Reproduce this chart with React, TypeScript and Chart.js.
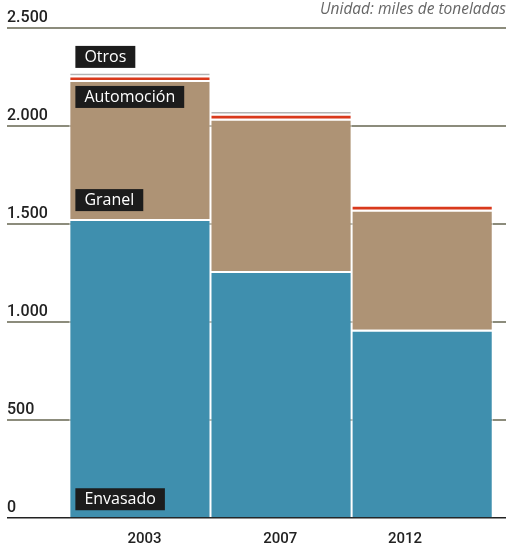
import React, { useEffect, useRef } from 'react';
import { Chart, registerables } from 'chart.js';

Chart.register(...registerables);

// ---- data ----
const years = ['2003', '2007', '2012'];
const seriesNames = ['Envasado', 'Granel', 'Automoción', 'Otros'];
const envasado = [1525, 1260, 960];
const granel = [710, 777, 613];
const automocion = [23, 25, 25];
const otros = [18, 20, 0];
const yTickStep = 500;
const yMax = 2500;
const unitNote = 'Unidad: miles de toneladas';

const colors = ['#3f8fae', '#ae9375', '#d9391c', '#b4b4b4'];
const FONT = '"Open Sans", "DejaVu Sans", sans-serif';
const TICK_FONT = 'Roboto, "Open Sans", sans-serif';

const fmt = (v: number) => String(v).replace(/\B(?=(\d{3})+(?!\d))/g, '.');

const boxLabels = {
  id: 'boxLabels',
  afterDatasetsDraw(chart: any) {
    const ctx = chart.ctx;
    const el = (d: number) => chart.getDatasetMeta(d).data[0] as any;
    const env = el(0);
    const gra = el(1);
    const oth = el(3);
    const left = env.x - env.width / 2 + 6;
    const h = 22;
    const items = [
      { text: seriesNames[0], top: env.base - 7 - h },
      { text: seriesNames[1], top: env.y - 8 - h },
      { text: seriesNames[2], top: gra.y + 6 },
      { text: seriesNames[3], top: oth.y - 4 - h },
    ];
    ctx.save();
    ctx.font = '16px ' + FONT;
    ctx.textBaseline = 'middle';
    ctx.textAlign = 'left';
    items.forEach((it) => {
      const w = ctx.measureText(it.text).width + 18;
      ctx.fillStyle = '#1c1c1c';
      ctx.fillRect(left, it.top, w, h);
      ctx.fillStyle = '#ffffff';
      ctx.fillText(it.text, left + 9, it.top + h / 2 + 0.5);
    });
    ctx.restore();
  },
};

export default function App() {
  const ref = useRef<HTMLCanvasElement>(null);

  useEffect(() => {
    if (!ref.current) return;
    const series = [envasado, granel, automocion, otros];
    const xLabelPos = [0.033, 0.994, 1.879];
    const chart = new Chart(ref.current, {
      type: 'bar',
      data: {
        datasets: series.map((vals, di) => ({
          label: seriesNames[di],
          data: vals.map((v, i) => ({ x: i, y: v })),
          backgroundColor: colors[di],
          borderColor: '#ffffff',
          borderWidth: { top: 2, left: 1, right: 1, bottom: 0 },
          borderSkipped: 'start',
          barThickness: 'flex',
          barPercentage: 1,
          categoryPercentage: 1,
          inflateAmount: 0,
        })) as any,
      },
      options: {
        animation: false,
        responsive: false,
        layout: { padding: { left: 7, right: 0, top: 0, bottom: 0 } },
        plugins: {
          legend: { display: false },
          tooltip: { enabled: false },
          title: {
            display: true,
            text: unitNote,
            align: 'end',
            color: '#666666',
            font: { family: FONT, size: 15.5, style: 'italic', weight: 'normal' },
            padding: { top: 0, bottom: 9.4 },
          },
        },
        scales: {
          x: {
            type: 'linear',
            stacked: true,
            offset: false,
            min: -0.942,
            max: 2.594,
            grid: { display: false, drawTicks: false, offset: false },
            border: { display: false },
            afterBuildTicks: (scale: any) => {
              scale.ticks = xLabelPos.map((v) => ({ value: v }));
            },
            afterFit: (scale: any) => {
              scale.height = 27;
            },
            ticks: {
              padding: 12,
              color: '#222222',
              font: { family: TICK_FONT, size: 15, weight: 500 },
              callback: (_v: any, i: number) => years[i],
              maxRotation: 0,
              autoSkip: false,
            },
          },
          y: {
            type: 'linear',
            stacked: true,
            min: 0,
            max: yMax,
            grid: {
              drawTicks: false,
              color: (c: any) => (c.tick && c.tick.value === 0 ? '#222222' : '#8c8c7c'),
              lineWidth: (c: any) => (c.tick && c.tick.value === 0 ? 1.5 : 2),
            },
            border: { display: false },
            ticks: {
              stepSize: yTickStep,
              mirror: true,
              padding: 0,
              labelOffset: -10,
              color: '#222222',
              font: { family: TICK_FONT, size: 16, weight: 500 },
              callback: (v: any) => fmt(Number(v)),
            },
          },
        },
      } as any,
      plugins: [boxLabels],
    });
    return () => chart.destroy();
  }, []);

  return (
    <div style={{ position: 'fixed', left: 0, top: 0, width: 506, height: 545, background: '#fff' }}>
      <canvas ref={ref} width={506} height={545} style={{ display: 'block' }} />
    </div>
  );
}
